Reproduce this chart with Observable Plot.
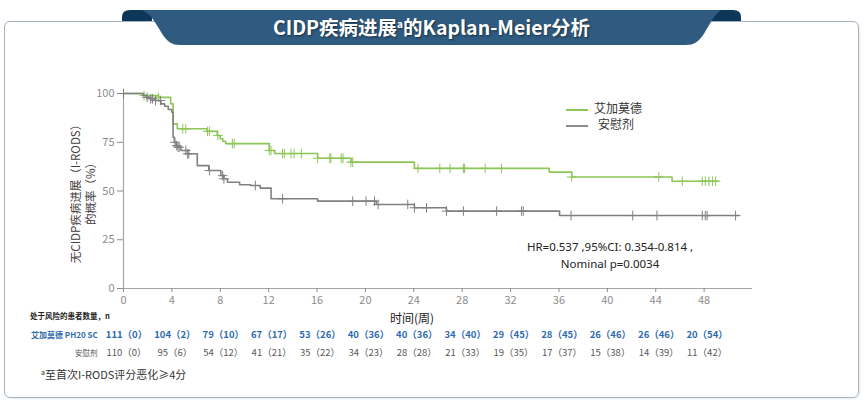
<!DOCTYPE html>
<html><head><meta charset="utf-8">
<script src="https://cdn.jsdelivr.net/npm/d3@7"></script>
<script src="https://cdn.jsdelivr.net/npm/@observablehq/plot@0.6"></script>
<style>
body{margin:0;width:865px;height:404px;background:#fff;position:relative;overflow:hidden;font-family:"Noto Sans CJK SC","Noto Sans",sans-serif;}
.abs{position:absolute;white-space:nowrap;}
#frame{position:absolute;left:4px;top:21px;width:853px;height:375px;border:1.5px solid #a3b3c4;border-radius:6px;box-shadow:1px 1px 2px rgba(0,0,0,0.08);}
#chart{position:absolute;left:0;top:0;}
.sw{display:inline-block;width:22px;height:2px;vertical-align:middle;}
</style></head><body>
<div id="frame"></div>
<svg class="abs" style="left:0;top:0" width="865" height="50">
  <path d="M122,21 L122,17 Q122,10 130,10 L152,10 L152,21 Z" fill="#0e3659"/>
  <path d="M741,21 L741,17 Q741,10 733,10 L711,10 L711,21 Z" fill="#0e3659"/>
  <path d="M142,10 L721,10 C715,14 711,22 705,32 C699,42 694,45 686,45 L180,45 C172,45 167,42 161,32 C155,22 151,14 142,10 Z" fill="#2f5b80"/>
</svg>
<div class="abs" style="left:122px;top:14px;width:619px;text-align:center;color:#fff;font-weight:bold;font-size:19.5px;line-height:26px;text-shadow:1px 1px 2px rgba(0,0,0,0.5);">CIDP疾病进展<sup style="font-size:10px;vertical-align:7px;line-height:0">a</sup>的Kaplan-Meier分析</div>
<div id="chart"></div>
<div class="abs" style="left:84px;top:191px;width:0;height:0;">
  <div style="position:absolute;left:-120px;top:-16px;width:240px;height:32px;transform:rotate(-90deg);text-align:center;font-size:11.5px;line-height:15px;color:#404040;">无CIDP疾病进展（I-RODS）<br>的概率（%）</div>
</div>
<div class="abs" style="left:566px;top:100px;font-size:12px;line-height:16px;color:#333;">
  <div><span class="sw" style="background:#8cc657;margin-right:6px;"></span>艾加莫德</div>
  <div><span class="sw" style="background:#8c8c8c;margin-right:10px;"></span>安慰剂</div>
</div>
<div class="abs" style="left:510px;top:238px;width:200px;text-align:center;font-family:'Noto Sans',sans-serif;font-size:11.5px;line-height:17px;color:#222;">HR=0.537 ,95%CI: 0.354-0.814 ,<br>Nominal p=0.0034</div>
<div class="abs" style="left:370px;top:309px;width:84px;text-align:center;font-size:12px;color:#222;">时间(周)</div>
<div class="abs" style="left:30px;top:310px;font-size:7.5px;color:#222;font-weight:bold;">处于风险的患者数量，n</div>
<div class="abs" style="left:31px;top:329px;font-size:8px;color:#2f6bb0;font-weight:bold;">艾加莫德 PH20 SC</div>
<div class="abs" style="left:75px;top:347px;font-size:7.5px;color:#555;">安慰剂</div>
<div class="abs" style="left:41px;top:366px;font-size:11px;color:#333;"><sup style="font-size:7px;vertical-align:4px;line-height:0">a</sup>至首次I-RODS评分恶化≥4分</div>
<script>
const xTicks = [0,4,8,12,16,20,24,28,32,36,40,44,48];
const yTicks = [0,25,50,75,100];
const riskDrug = ["111（0）","104（2）","79（10）","67（17）","53（26）","40（36）","40（36）","34（40）","29（45）","28（45）","26（46）","26（46）","20（54）"];
const riskPlacebo = ["110（0）","95（6）","54（12）","41（21）","35（22）","34（23）","28（28）","21（33）","19（35）","17（37）","15（38）","14（39）","11（42）"];

const drugT = [0,1.7,2.9,3.9,4.1,4.45,6.9,7.75,8.0,8.2,8.45,12.05,12.5,16.05,18.8,24.05,35.2,37.05,45.35,49.2];
const drugS = [100,98.9,98.0,94.7,84.4,81.9,80.6,78.5,76.8,75.5,74.3,70.8,69.2,66.8,64.8,61.6,59.7,57.2,55.0,55.0];
const placT = [0,1.6,1.9,2.2,2.6,3.1,3.4,3.7,4.0,4.1,4.2,4.35,4.5,4.75,5.3,6.1,7.05,8.05,8.3,8.6,9.6,10.5,11.3,12.2,16.05,20.9,24.05,26.7,36.05,50.9];
const placS = [100,99.0,98.0,97.3,96.4,94.7,93.5,91.8,90.4,77.6,75.0,73.3,72.5,70.8,69.1,63.0,60.5,57.9,56.3,54.5,53.2,52.8,51.5,46.0,44.8,43.1,41.4,39.7,37.4,37.4];
const drugCensor = [1.7,2.9,4.9,5.15,6.95,7.1,7.8,9.0,9.15,12.05,12.2,13.15,13.3,13.85,14.1,14.7,16.05,17.05,17.15,18.0,18.15,18.8,18.95,24.35,26.15,27.0,28.1,28.2,29.9,31.25,37.05,44.25,46.2,47.85,48.1,48.4,48.7,48.95];
const placCensor = [0,1.95,2.25,2.4,2.65,3.05,4.25,4.4,4.5,4.6,5.15,5.3,5.4,7.1,8.2,8.3,10.9,13.15,18.95,20.05,20.75,21.05,23.5,24.05,25.05,26.7,28.1,30.85,32.9,33.05,37.0,42.1,44.1,47.85,48.1,48.25,50.6];

const GREEN = "#8cc657", GRAY = "#808080", BLUE = "#2f6bb0";
const curve = (T, S) => T.map((t, i) => ({t, s: S[i]}));
const stepAt = (T, S, t) => S[Math.max(0, d3.bisectRight(T, t) - 1)];
const cens = (C, T, S) => C.map(t => ({t, s: stepAt(T, S, t)}));
const risk = (labels) => xTicks.map((t, i) => ({t, label: labels[i]}));

const plot = Plot.plot({
  width: 865, height: 404,
  marginLeft: 123, marginRight: 113, marginTop: 93, marginBottom: 116,
  style: {fontFamily: '"Noto Sans CJK SC","Noto Sans",sans-serif', fontSize: "11px", color: "#8c8c8c", background: "transparent"},
  x: {domain: [0, 52]},
  y: {domain: [0, 100]},
  marks: [
    Plot.ruleY([0], {stroke: "#a6a6a6", strokeWidth: 1.2}),
    Plot.ruleX([0], {stroke: "#a6a6a6", strokeWidth: 1.2}),
    Plot.axisX({ticks: xTicks, tickSize: 4, tickPadding: 4, label: null, color: "#8c8c8c", fontSize: 11}),
    Plot.axisY({ticks: yTicks, tickSize: 6, tickPadding: 3, label: null, color: "#8c8c8c", fontSize: 11}),
    Plot.line(curve(drugT, drugS), {x: "t", y: "s", curve: "step-after", stroke: GREEN, strokeWidth: 1.6}),
    Plot.dot(cens(drugCensor, drugT, drugS), {x: "t", y: "s", symbol: "plus", r: 3.2, stroke: GREEN, strokeWidth: 1}),
    Plot.line(curve(placT, placS), {x: "t", y: "s", curve: "step-after", stroke: GRAY, strokeWidth: 1.6}),
    Plot.dot(cens(placCensor, placT, placS), {x: "t", y: "s", symbol: "plus", r: 3.2, stroke: GRAY, strokeWidth: 1}),
    Plot.text(risk(riskDrug), {x: "t", y: () => 0, dy: 46, dx: 3, text: "label", fill: BLUE, fontWeight: "bold", fontSize: 9.5}),
    Plot.text(risk(riskPlacebo), {x: "t", y: () => 0, dy: 64, dx: 3, text: "label", fill: "#595959", fontSize: 9.5})
  ]
});
document.getElementById("chart").append(plot);
</script>
</body></html>
